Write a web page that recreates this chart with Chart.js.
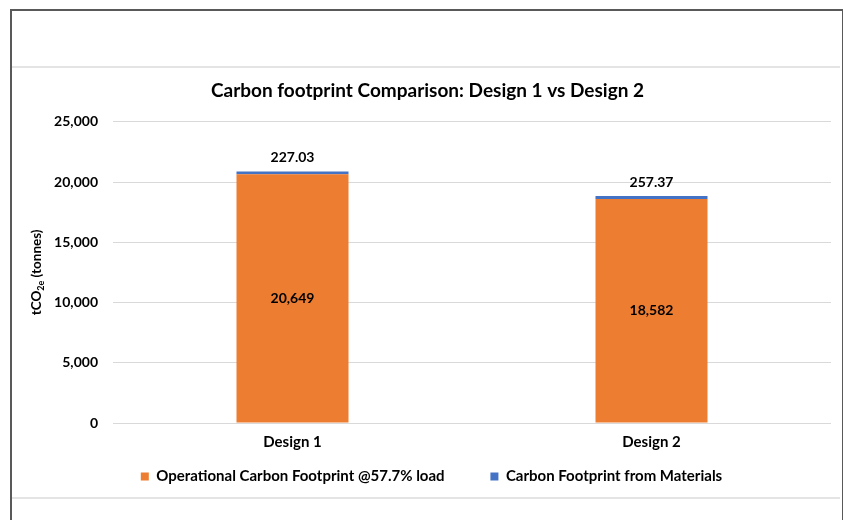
<!DOCTYPE html>
<html>
<head>
<meta charset="utf-8">
<script src="https://cdn.jsdelivr.net/npm/chart.js@4"></script>
<style>
  body { margin: 0; background: #fff; }
  #wrap { position: relative; width: 843px; height: 520px; overflow: hidden; }
  #frame { position: absolute; left: 10px; top: 9px; width: 830px; height: 520px;
           border: 2px solid #595959; border-bottom: none; }
  .sep { position: absolute; left: 12px; width: 828px; height: 2px; background: #e4e4e4; }
  #chart-box { position: absolute; left: 12px; top: 69px; width: 828px; height: 428px; }
</style>
</head>
<body>
<div id="wrap">
  <div id="frame"></div>
  <div class="sep" style="top:66px"></div>
  <div class="sep" style="top:497px"></div>
  <div id="chart-box"><canvas id="chart"></canvas></div>
</div>
<script>
// Chart data
const categories = ['Design 1', 'Design 2'];
const operationalValues = [20649, 18582];
const materialValues = [227.03, 257.37];
const seriesNames = ['Operational Carbon Footprint @57.7% load', 'Carbon Footprint from Materials'];
const yTicks = [0, 5000, 10000, 15000, 20000, 25000];

const FONT = 'Lato, "Open Sans", sans-serif';

/**
 * Draw value labels: operational inside bar, materials above bar
 */
const valueLabels = {
    id: 'valueLabels',
    afterDatasetsDraw(chart) {
        const ctx = chart.ctx;
        ctx.save();
        ctx.font = 'bold 14px ' + FONT;
        ctx.fillStyle = '#000';
        ctx.textAlign = 'center';
        ctx.textBaseline = 'middle';
        chart.getDatasetMeta(0).data.forEach((bar, i) => {
            const mid = (bar.y + bar.base) / 2;
            ctx.fillText(operationalValues[i].toLocaleString('en-US'), bar.x, mid);
        });
        chart.getDatasetMeta(1).data.forEach((bar, i) => {
            ctx.fillText(materialValues[i].toFixed(2), bar.x, bar.y - 14);
        });
        ctx.restore();
    }
};

/**
 * Y axis title with subscript
 */
const yTitle = {
    id: 'yTitle',
    afterDraw(chart) {
        const ctx = chart.ctx;
        const area = chart.chartArea;
        const parts = [['tCO', 13.5, 0], ['2e', 9, 4], [' (tonnes)', 13.5, 0]];
        ctx.save();
        let total = 0;
        parts.forEach(p => { ctx.font = 'bold ' + p[1] + 'px ' + FONT; total += ctx.measureText(p[0]).width; });
        ctx.translate(25, (area.top + area.bottom) / 2);
        ctx.rotate(-Math.PI / 2);
        ctx.fillStyle = '#000';
        ctx.textBaseline = 'middle';
        let x = -total / 2;
        parts.forEach(p => {
            ctx.font = 'bold ' + p[1] + 'px ' + FONT;
            ctx.fillText(p[0], x, p[2]);
            x += ctx.measureText(p[0]).width;
        });
        ctx.restore();
    }
};

/**
 * Nudge title and legend to the right, like the original
 */
const nudge = {
    id: 'nudge',
    afterLayout(chart) {
        chart.titleBlock.left += 6;
        chart.titleBlock.right += 6;
        chart.legend.left += 10;
        chart.legend.right += 10;
    }
};

const ctx = document.getElementById('chart').getContext('2d');
new Chart(ctx, {
    type: 'bar',
    data: {
        labels: categories,
        datasets: [
            { label: seriesNames[0], data: operationalValues, backgroundColor: '#ED7D31',
              categoryPercentage: 1, barPercentage: 0.312 },
            { label: seriesNames[1], data: materialValues, backgroundColor: '#4472C4',
              categoryPercentage: 1, barPercentage: 0.312 }
        ]
    },
    options: {
        responsive: true,
        maintainAspectRatio: false,
        animation: false,
        layout: { padding: { left: 0, right: 9, top: 0, bottom: 3 } },
        scales: {
            x: {
                stacked: true,
                grid: { display: false },
                border: { display: false },
                afterFit(scale) { scale.height += 3; },
                ticks: { color: '#000', font: { family: FONT, size: 15, weight: 'bold' }, padding: 2 }
            },
            y: {
                stacked: true,
                min: 0,
                max: 25000,
                afterBuildTicks(scale) { scale.ticks = yTicks.map(v => ({ value: v })); },
                afterFit(scale) { scale.width = 101; },
                grid: { color: '#D9D9D9', drawTicks: false },
                border: { display: false },
                ticks: {
                    color: '#000',
                    padding: 15,
                    font: { family: FONT, size: 14, weight: 'bold' },
                    callback: v => v.toLocaleString('en-US')
                }
            }
        },
        plugins: {
            title: {
                display: true,
                text: 'Carbon footprint Comparison: Design 1 vs Design 2',
                color: '#000',
                font: { family: FONT, size: 19, weight: 'bold' },
                padding: { top: 10, bottom: 20 }
            },
            legend: {
                position: 'bottom',
                labels: {
                    color: '#000',
                    boxWidth: 8,
                    boxHeight: 8,
                    padding: 13,
                    font: { family: FONT, size: 15, weight: 'bold' },
                    generateLabels(chart) {
                        const items = Chart.defaults.plugins.legend.labels.generateLabels(chart);
                        // widen the first entry so the gap matches the original
                        items[0].text = items[0].text + ' '.repeat(9);
                        return items;
                    }
                }
            },
            tooltip: { enabled: false }
        }
    },
    plugins: [valueLabels, yTitle, nudge]
});
</script>
</body>
</html>
